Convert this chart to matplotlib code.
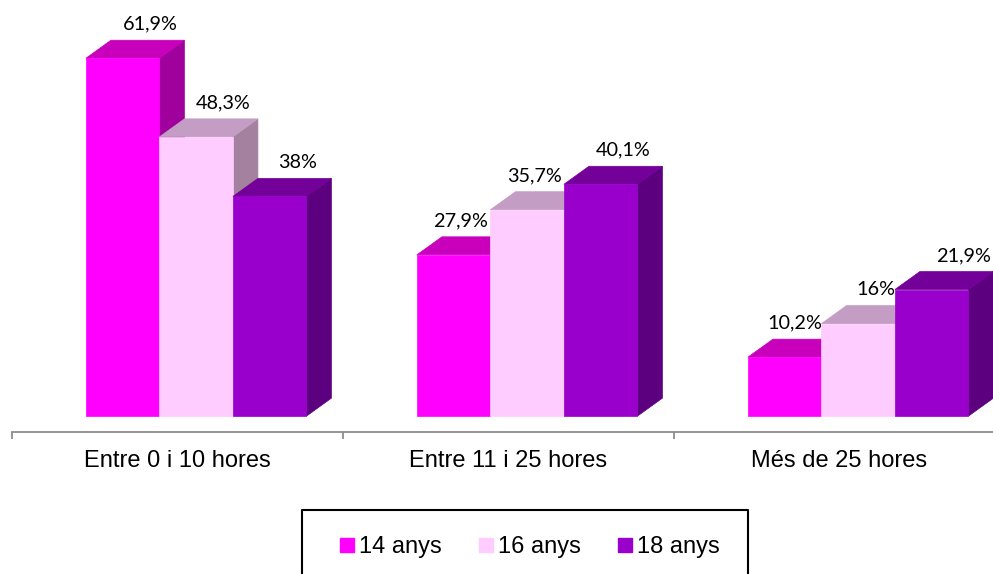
import matplotlib
matplotlib.use("Agg")
import matplotlib.pyplot as plt
from matplotlib.patches import Rectangle, Polygon
from matplotlib.lines import Line2D

plt.rcParams["savefig.bbox"] = None

# data
categories = ["Entre 0 i 10 hores", "Entre 11 i 25 hores", "Més de 25 hores"]
series_names = ["14 anys", "16 anys", "18 anys"]
values_14 = [61.9, 27.9, 10.2]
values_16 = [48.3, 35.7, 16.0]
values_18 = [38.0, 40.1, 21.9]
value_labels_14 = ["61,9%", "27,9%", "10,2%"]
value_labels_16 = ["48,3%", "35,7%", "16%"]
value_labels_18 = ["38%", "40,1%", "21,9%"]

# colours: front, top, side
front_colors = ["#ff00ff", "#ffccff", "#9900cc"]
top_colors = ["#c800bc", "#c39dc3", "#730099"]
side_colors = ["#a0009c", "#a4829f", "#5c0080"]

# label nudges in pixels (Excel style placement)
label_nudge = [[3, 2, 2.5], [-18, -18, -2.5], [-15, -7, 6.5]]

W, H = 993, 574
fig = plt.figure(figsize=(W / 100, H / 100), dpi=100)
ax = fig.add_axes([0, 0, 1, 1])

px_x = W / 3.0        # pixels per category
px_y = 5.78           # pixels per percent

bar_w = 73.5 / px_x
dx = 25 / px_x
dy = 18 / px_y
group_left = -0.2764

all_values = [values_14, values_16, values_18]
all_labels = [value_labels_14, value_labels_16, value_labels_18]

z = 2
for i in range(len(categories)):
    for j in range(3):
        h = all_values[j][i]
        x0 = i + group_left + j * bar_w
        side = Polygon([(x0 + bar_w, 0), (x0 + bar_w + dx, dy),
                        (x0 + bar_w + dx, h + dy), (x0 + bar_w, h)],
                       closed=True, facecolor=side_colors[j],
                       edgecolor=side_colors[j], lw=0.5, zorder=z)
        top = Polygon([(x0, h), (x0 + bar_w, h), (x0 + bar_w + dx, h + dy),
                       (x0 + dx, h + dy)], closed=True,
                      facecolor=top_colors[j], edgecolor=top_colors[j],
                      lw=0.5, zorder=z)
        front = Rectangle((x0, 0), bar_w, h, facecolor=front_colors[j],
                          edgecolor=front_colors[j], lw=0.5, zorder=z + 1)
        ax.add_patch(side)
        ax.add_patch(top)
        ax.add_patch(front)
        z += 2
        cx = x0 + bar_w / 2 + dx + label_nudge[i][j] / px_x
        ax.annotate(all_labels[j][i], (cx, h + dy), xytext=(0, 11.5),
                    textcoords="offset points", ha="center", va="center",
                    fontsize=14.3, family="Lato", color="black", zorder=50)

# axis
for s in ["top", "left", "right"]:
    ax.spines[s].set_visible(False)
ax.spines["bottom"].set_position(("data", -16 / px_y))
ax.spines["bottom"].set_bounds(-0.5, 2.6)
ax.spines["bottom"].set_color("#8c8c8c")
ax.spines["bottom"].set_linewidth(1.3)
ax.set_yticks([])
ax.set_xticks(range(len(categories)))
ax.set_xticklabels(categories, fontsize=17, family="Liberation Sans")
ax.tick_params(axis="x", which="major", length=0, pad=13)
ax.set_xticks([-0.5, 0.5, 1.5], minor=True)
ax.tick_params(axis="x", which="minor", length=5, width=1.3,
               color="#8c8c8c", direction="out")
ax.set_xlim(-0.536, 2.464)
ax.set_ylim(-27.3, 71.97)
ax.patch.set_visible(False)

# legend
handles = [Line2D([], [], marker="s", ls="", markersize=9.4,
                  markerfacecolor=c, markeredgecolor=c) for c in front_colors]
fig.legend(handles, series_names, loc="center left",
           bbox_to_anchor=(338 / W, 1 - 547 / H), ncol=3, frameon=False,
           prop={"family": "Liberation Sans", "size": 17},
           handlelength=0.8, handletextpad=0.1, columnspacing=1.48,
           borderpad=0, borderaxespad=0)
box_top = 1 - 510 / H
fig.add_artist(Line2D([302 / W, 302 / W, 748 / W, 748 / W],
                      [0, box_top, box_top, 0], transform=fig.transFigure,
                      color="black", lw=1.5))

fig.savefig("out.png", dpi=100)
